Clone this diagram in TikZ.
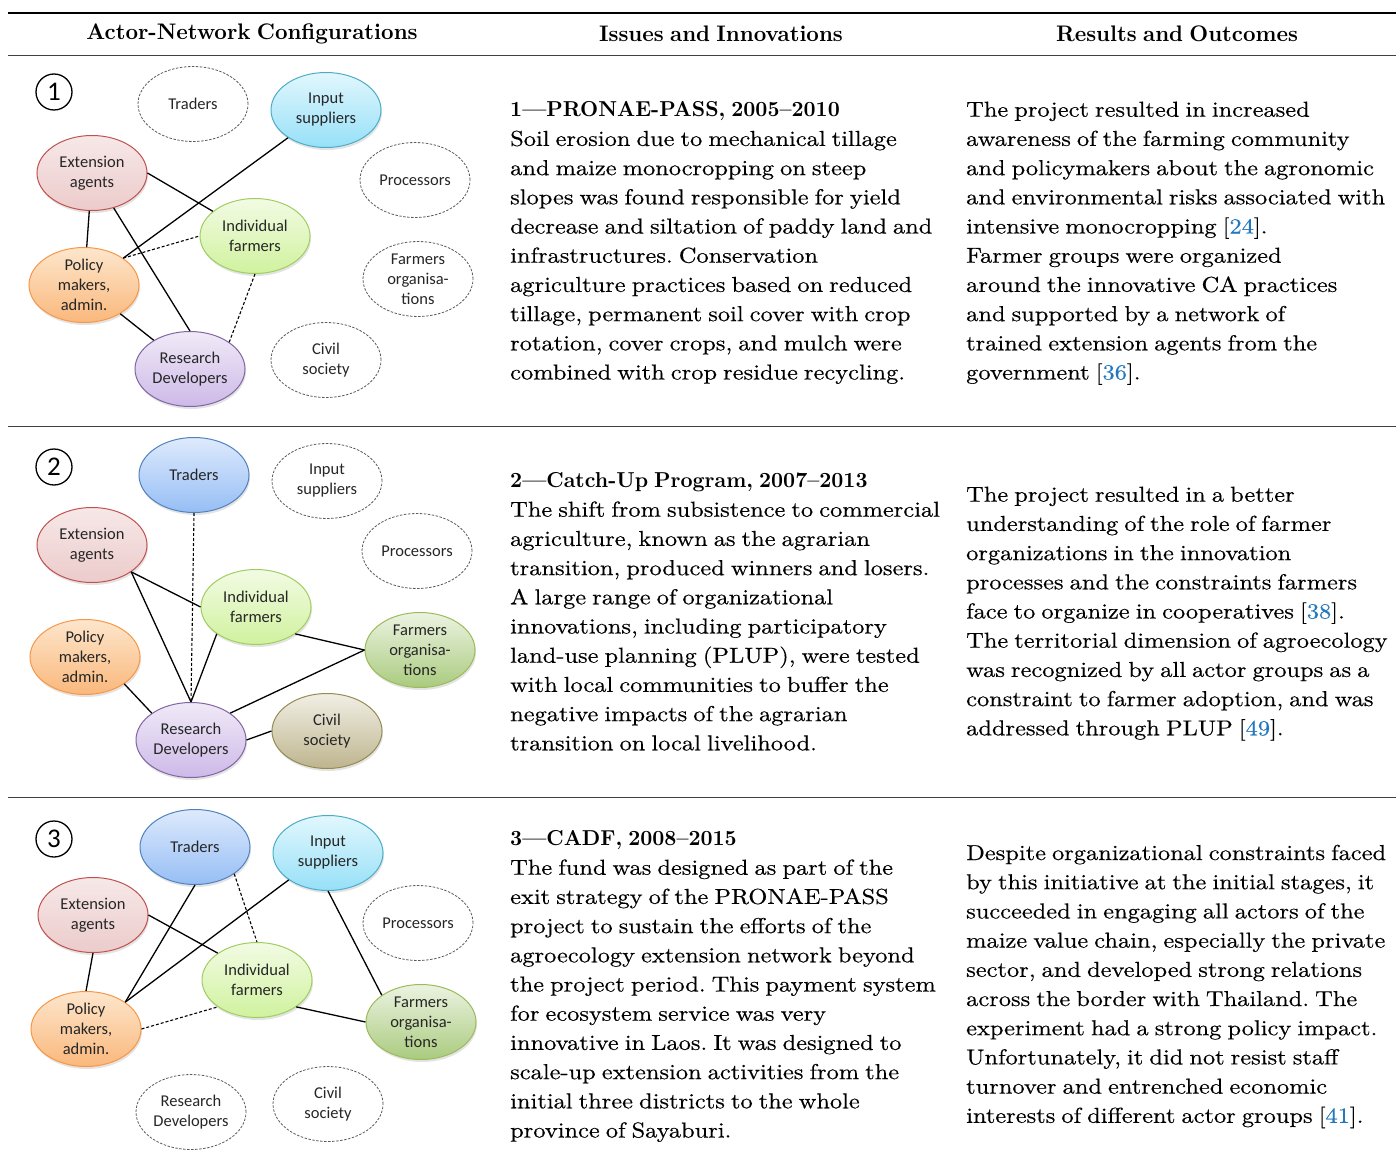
\documentclass[tikz,border=0pt]{standalone}
\usepackage{fontspec}
\setmainfont{lmroman10-regular.otf}[BoldFont=lmroman10-bold.otf, FakeStretch=1.13, FakeBold=0.4,
    WordSpace=0.75, BoldFeatures={FakeStretch=0.97, FakeBold=0}]
\newfontfamily\actorfont{Carlito}
\usetikzlibrary{positioning,shapes.geometric,shadows}
\frenchspacing

\definecolor{citeblue}{RGB}{35,120,190}
\definecolor{ExtLine}{RGB}{192,80,77}
\definecolor{ExtTop}{RGB}{247,232,232}
\definecolor{ExtBot}{RGB}{236,203,203}
\definecolor{InpLine}{RGB}{75,172,198}
\definecolor{InpTop}{RGB}{226,247,253}
\definecolor{InpBot}{RGB}{150,224,248}
\definecolor{IndLine}{RGB}{160,205,95}
\definecolor{IndTop}{RGB}{242,251,228}
\definecolor{IndBot}{RGB}{208,242,158}
\definecolor{PolLine}{RGB}{247,150,70}
\definecolor{PolTop}{RGB}{253,230,204}
\definecolor{PolBot}{RGB}{250,184,124}
\definecolor{ResLine}{RGB}{128,100,162}
\definecolor{ResTop}{RGB}{240,234,247}
\definecolor{ResBot}{RGB}{205,185,232}
\definecolor{TrdLine}{RGB}{79,129,189}
\definecolor{TrdTop}{RGB}{222,234,252}
\definecolor{TrdBot}{RGB}{150,190,245}
\definecolor{OrgLine}{RGB}{155,187,89}
\definecolor{OrgTop}{RGB}{236,243,226}
\definecolor{OrgBot}{RGB}{170,203,126}
\definecolor{CivLine}{RGB}{148,138,84}
\definecolor{CivTop}{RGB}{241,239,229}
\definecolor{CivBot}{RGB}{190,181,142}

\newcommand{\refno}[1]{[\textcolor{citeblue}{#1}]}

\begin{document}
\begin{tikzpicture}[x=1pt, y=-1pt,
        actor/.style={ellipse, minimum width=110pt, minimum height=75pt, inner sep=0pt, align=center,
            text=black!85, font=\actorfont\fontsize{16.5}{20}\selectfont},
        idle/.style={actor, draw=black!65, line width=0.8pt, dash pattern=on 2.5pt off 1.5pt},
        active/.style={actor, line width=1pt, drop shadow={opacity=0.22, shadow xshift=1pt, shadow yshift=-2.5pt}},
        ext/.style={active, draw=ExtLine, top color=ExtTop, bottom color=ExtBot},
        inp/.style={active, draw=InpLine, top color=InpTop, bottom color=InpBot},
        ind/.style={active, draw=IndLine, top color=IndTop, bottom color=IndBot},
        pol/.style={active, draw=PolLine, top color=PolTop, bottom color=PolBot},
        res/.style={active, draw=ResLine, top color=ResTop, bottom color=ResBot},
        trd/.style={active, draw=TrdLine, top color=TrdTop, bottom color=TrdBot},
        org/.style={active, draw=OrgLine, top color=OrgTop, bottom color=OrgBot},
        civ/.style={active, draw=CivLine, top color=CivTop, bottom color=CivBot},
        tie/.style={line width=1.3pt},
        weak/.style={line width=1.1pt, dash pattern=on 3pt off 2pt},
        panelno/.style={circle, draw, line width=1.3pt, minimum size=36pt, inner sep=0pt,
            font=\actorfont\fontsize{27}{27}\selectfont},
        head/.style={font=\bfseries\fontsize{22.5}{26}\selectfont},
        body/.style={anchor=base west, align=left, inner sep=0pt, font=\fontsize{21.6}{29.2}\selectfont}]
        \useasboundingbox (0,0) rectangle (1396,1166);

        \draw[line width=1.6pt] (8,13) -- (1396,13);
        \draw[line width=0.8pt, black!75] (8,55) -- (1396,55);
        \draw[line width=0.8pt, black!75] (8,426) -- (1396,426);
        \draw[line width=0.8pt, black!75] (8,797) -- (1396,797);

        \node[head] (HeadActors) at (252,34) {Actor-Network Configurations};
        \node[head] (HeadIssues) at (721,34) {Issues and Innovations};
        \node[head] (HeadResults) at (1177,34) {Results and Outcomes};

        \node[panelno] (Num1) at (54,92) {1};
        \node[idle] (Traders1) at (193,104) {Traders};
        \node[inp] (InputSup1) at (326,110) {Input\\suppliers};
        \node[ext] (ExtAgents1) at (92,173) {Extension\\agents};
        \node[idle] (Processors1) at (415,180) {Processors};
        \node[ind] (IndFarmers1) at (255,236) {Individual\\farmers};
        \node[idle] (FarmOrg1) at (418,279) {Farmers\\organisa-\\tions};
        \node[pol] (PolicyMk1) at (84,285) {Policy\\makers,\\admin.};
        \node[res] (ResDev1) at (190,369) {Research\\Developers};
        \node[idle] (CivilSoc1) at (326,360) {Civil\\society};

        \draw[tie] (ExtAgents1.east) -- (IndFarmers1);
        \draw[tie] (ExtAgents1) -- (PolicyMk1);
        \draw[tie] (ExtAgents1) -- (ResDev1.north);
        \draw[tie] (InputSup1) -- (PolicyMk1.north east);
        \draw[weak] (PolicyMk1.north east) -- (IndFarmers1.west);
        \draw[tie] (PolicyMk1) -- (ResDev1);
        \draw[weak] (IndFarmers1.south) -- (ResDev1.north east);

        \node[panelno] (Num2) at (54,467) {2};
        \node[trd] (Traders2) at (194,475) {Traders};
        \node[idle] (InputSup2) at (327,481) {Input\\suppliers};
        \node[ext] (ExtAgents2) at (92,545) {Extension\\agents};
        \node[idle] (Processors2) at (417,551) {Processors};
        \node[ind] (IndFarmers2) at (256,607) {Individual\\farmers};
        \node[org] (FarmOrg2) at (420,650) {Farmers\\organisa-\\tions};
        \node[pol] (PolicyMk2) at (85,657) {Policy\\makers,\\admin.};
        \node[res] (ResDev2) at (191,740) {Research\\Developers};
        \node[civ] (CivilSoc2) at (327,731) {Civil\\society};

        \draw[weak] (Traders2.south) -- (ResDev2.north);
        \draw[tie] (ExtAgents2.south east) -- (IndFarmers2.west);
        \draw[tie] (ExtAgents2.south east) -- (ResDev2.north);
        \draw[tie] (IndFarmers2.south west) -- (ResDev2.north);
        \draw[tie] (IndFarmers2.south east) -- (FarmOrg2.west);
        \draw[tie] (FarmOrg2.west) -- (ResDev2.north east);
        \draw[tie] (PolicyMk2.south east) -- (ResDev2.north west);
        \draw[tie] (ResDev2.east) -- (CivilSoc2.west);

        \node[panelno] (Num3) at (54,839) {3};
        \node[trd] (Traders3) at (195,847) {Traders};
        \node[inp] (InputSup3) at (328,853) {Input\\suppliers};
        \node[ext] (ExtAgents3) at (93,915) {Extension\\agents};
        \node[idle] (Processors3) at (418,923) {Processors};
        \node[ind] (IndFarmers3) at (257,980) {Individual\\farmers};
        \node[org] (FarmOrg3) at (421,1022) {Farmers\\organisa-\\tions};
        \node[pol] (PolicyMk3) at (86,1029) {Policy\\makers,\\admin.};
        \node[idle] (ResDev3) at (191,1112) {Research\\Developers};
        \node[idle] (CivilSoc3) at (328,1104) {Civil\\society};

        \draw[tie] (Traders3.south) -- (PolicyMk3.north east);
        \draw[weak] (Traders3.south east) -- (IndFarmers3.north);
        \draw[tie] (InputSup3.south west) -- (PolicyMk3.north east);
        \draw[tie] (InputSup3.south) -- (FarmOrg3.north west);
        \draw[tie] (ExtAgents3.east) -- (IndFarmers3.north west);
        \draw[tie] (ExtAgents3.south) -- (PolicyMk3.north);
        \draw[weak] (PolicyMk3.east) -- (IndFarmers3.south west);
        \draw[tie] (IndFarmers3.south east) -- (FarmOrg3.west);

        \node[body] (Issue1) at (510,379.5) {\textbf{1---PRONAE-PASS, 2005--2010}\\
            Soil erosion due to mechanical tillage\\
            and maize monocropping on steep\\
            slopes was found responsible for yield\\
            decrease and siltation of paddy land and\\
            infrastructures. Conservation\\
            agriculture practices based on reduced\\
            tillage, permanent soil cover with crop\\
            rotation, cover crops, and mulch were\\
            combined with crop residue recycling.};
        \node[body] (Result1) at (966,379.5) {The project resulted in increased\\
            awareness of the farming community\\
            and policymakers about the agronomic\\
            and environmental risks associated with\\
            intensive monocropping \refno{24}.\\
            Farmer groups were organized\\
            around the innovative CA practices\\
            and supported by a network of\\
            trained extension agents from the\\
            government \refno{36}.};

        \node[body] (Issue2) at (510,750.3) {\textbf{2---Catch-Up Program, 2007--2013}\\
            The shift from subsistence to commercial\\
            agriculture, known as the agrarian\\
            transition, produced winners and losers.\\
            A large range of organizational\\
            innovations, including participatory\\
            land-use planning (PLUP), were tested\\
            with local communities to buffer the\\
            negative impacts of the agrarian\\
            transition on local livelihood.};
        \node[body] (Result2) at (966,735.3) {The project resulted in a better\\
            understanding of the role of farmer\\
            organizations in the innovation\\
            processes and the constraints farmers\\
            face to organize in cooperatives \refno{38}.\\
            The territorial dimension of agroecology\\
            was recognized by all actor groups as a\\
            constraint to farmer adoption, and was\\
            addressed through PLUP \refno{49}.};

        \node[body] (Issue3) at (510,1137.5) {\textbf{3---CADF, 2008--2015}\\
            The fund was designed as part of the\\
            exit strategy of the PRONAE-PASS\\
            project to sustain the efforts of the\\
            agroecology extension network beyond\\
            the project period. This payment system\\
            for ecosystem service was very\\
            innovative in Laos. It was designed to\\
            scale-up extension activities from the\\
            initial three districts to the whole\\
            province of Sayaburi.};
        \node[body] (Result3) at (966,1122.8) {Despite organizational constraints faced\\
            by this initiative at the initial stages, it\\
            succeeded in engaging all actors of the\\
            maize value chain, especially the private\\
            sector, and developed strong relations\\
            across the border with Thailand. The\\
            experiment had a strong policy impact.\\
            Unfortunately, it did not resist staff\\
            turnover and entrenched economic\\
            interests of different actor groups \refno{41}.};
    \end{tikzpicture}
\end{document}
